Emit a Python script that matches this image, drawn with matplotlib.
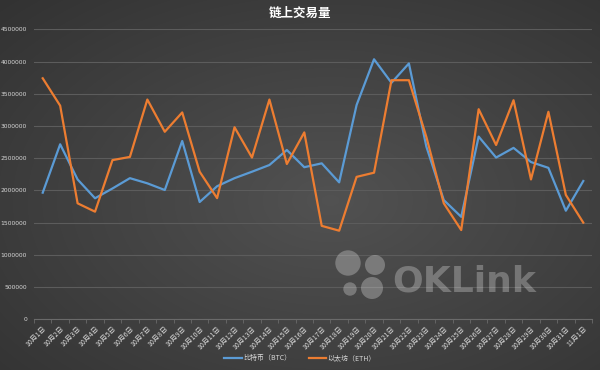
import numpy as np
import matplotlib
matplotlib.use('Agg')
import matplotlib.pyplot as plt
from matplotlib.patches import Ellipse

plt.rcParams['font.family'] = ['Noto Sans CJK SC', 'DejaVu Sans']

# 日期
dates = ['10月%d日' % d for d in range(1, 32)] + ['11月1日']
# 比特币 (BTC)
btc = [1965000, 2716000, 2170000, 1878000, 2030000, 2190000, 2110000, 2006000,
       2767000, 1820000, 2065000, 2190000, 2290000, 2394000, 2627000, 2360000,
       2420000, 2125000, 3325000, 4035000, 3670000, 3970000, 2680000, 1850000,
       1590000, 2835000, 2510000, 2660000, 2440000, 2350000, 1685000, 2146000]
# 以太坊 (ETH)
eth = [3740000, 3315000, 1800000, 1670000, 2470000, 2520000, 3410000, 2910000,
       3210000, 2290000, 1880000, 2980000, 2510000, 3410000, 2410000, 2900000,
       1450000, 1375000, 2210000, 2275000, 3710000, 3710000, 2830000, 1800000,
       1385000, 3260000, 2705000, 3400000, 2170000, 3220000, 1930000, 1500000]
yticks = np.arange(0, 4500001, 500000)

W, H = 600, 370
fig = plt.figure(figsize=(W / 100, H / 100), dpi=100)

# 背景渐变
bg = fig.add_axes([0, 0, 1, 1])
yy, xx = np.mgrid[0:H, 0:W]
r = np.sqrt(((xx - 330) / W) ** 2 + ((yy - 200) / H) ** 2)
shade = 0.32 - 0.16 * r
bg.imshow(np.dstack([shade, shade, shade]), aspect='auto', extent=[0, 1, 0, 1])
bg.axis('off')

ax = fig.add_axes([34 / W, 1 - 319.3 / H, 558 / W, 290 / H])
ax.set_facecolor('none')
x = np.arange(len(dates))
ax.plot(x, btc, color='#5b9bd5', lw=1.6, label='比特币（BTC）', zorder=3)
ax.plot(x, eth, color='#ed7d31', lw=1.6, label='以太坊（ETH）', zorder=3)

ax.set_xlim(-0.5, len(dates) - 0.5)
ax.set_ylim(0, 4500000)
ax.set_yticks(yticks)
ax.set_yticklabels([str(v) for v in yticks], fontsize=4.3, color='#d9d9d9',
                   family='DejaVu Sans')
ax.set_xticks(x)
ax.set_xticklabels(dates, rotation=45, ha='right', va='top', fontsize=5,
                   color='#d9d9d9', rotation_mode='anchor')
ax.set_xticks(np.arange(-0.5, len(dates), 1), minor=True)
ax.tick_params(axis='x', which='major', length=0, pad=4)
ax.tick_params(axis='x', which='minor', length=3, color='#6a6a6a')
ax.tick_params(axis='y', length=0, pad=5)
ax.grid(axis='y', color='#5c5c5c', lw=0.8, zorder=0)
for s in ['top', 'right', 'left']:
    ax.spines[s].set_visible(False)
ax.spines['bottom'].set_color('#6a6a6a')

# 水印
wm = (1, 1, 1, 0.27)
for cx, cy, rr in [(348, 263, 12.7), (375, 265, 10), (350, 289, 6.7), (372, 288, 11)]:
    fig.add_artist(Ellipse((cx / W, 1 - cy / H), 2 * rr / W, 2 * rr / H,
                           facecolor=wm, edgecolor='none', zorder=2))
fig.text(392 / W, 1 - 292 / H, 'OKLink', fontsize=26, fontweight='bold',
         color=wm, family='DejaVu Sans', ha='left', va='baseline')

fig.text(0.5, 1 - 13 / H, '链上交易量', ha='center', va='center', fontsize=9,
         fontweight='bold', color='white')

fig.legend(loc='center', bbox_to_anchor=(0.5, 1 - 358 / H), ncol=2, frameon=False,
           fontsize=5, labelcolor='#d9d9d9', handlelength=2.5, columnspacing=2.5,
           handletextpad=0.2)

fig.savefig('out.png', dpi=100)
